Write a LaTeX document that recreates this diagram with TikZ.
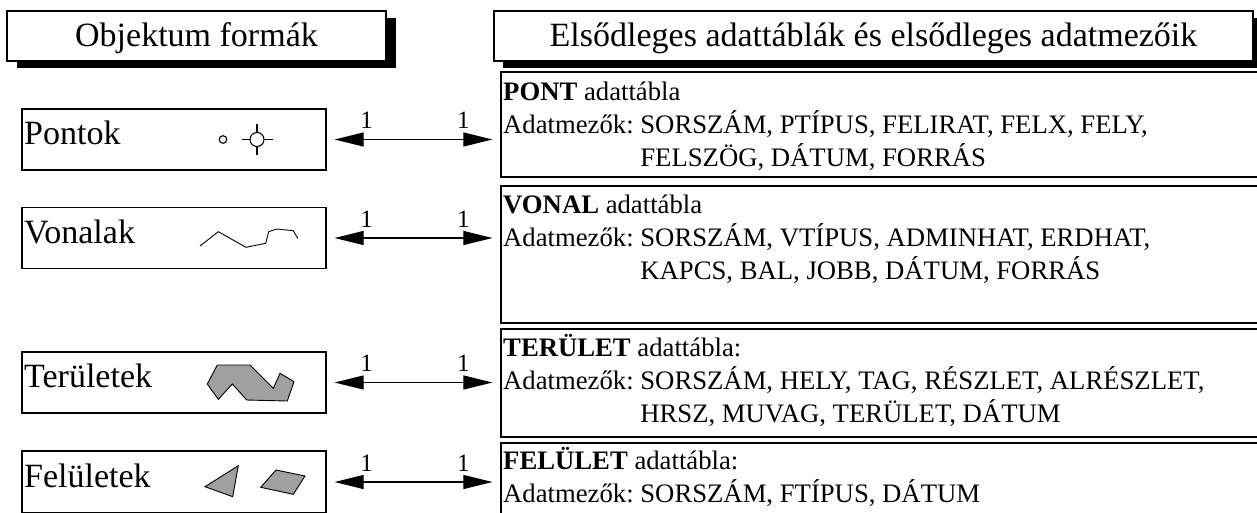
\documentclass[tikz,border=0pt]{standalone}
\usepackage{fontspec}
\setmainfont{Liberation Serif}
\usetikzlibrary{arrows.meta}
\definecolor{shapegray}{RGB}{160,160,160}
\frenchspacing
\begin{document}
\begin{tikzpicture}[x=1pt,y=-1pt,
  tbox/.style={draw=black,line width=1.2pt,fill=white,inner sep=0pt},
  lbox/.style={draw=black,line width=1.2pt,fill=white,inner sep=0pt,minimum width=304pt,minimum height=61pt},
  rbox/.style={draw=black,line width=1.2pt,fill=white,inner sep=0pt,minimum width=800pt},
  bigtxt/.style={font=\fontsize{34}{40}\selectfont,inner sep=0pt},
  lbl/.style={font=\fontsize{34}{40}\selectfont,inner sep=0pt,anchor=base west},
  datatxt/.style={font=\fontsize{26.7}{33}\selectfont,inner sep=0pt,anchor=base west},
  onetxt/.style={font=\fontsize{25}{30}\selectfont,inner sep=0pt,anchor=base},
  conn/.style={line width=1.1pt,{Triangle[length=29pt,width=14pt]}-{Triangle[length=29pt,width=14pt]}},
  icon/.style={line width=1.1pt},
  area/.style={draw=black,line width=0.9pt,fill=shapegray}
]
\useasboundingbox (0,0) rectangle (1257,512);
\clip (0,0) rectangle (1257,512);

% title boxes with shadows
\fill[black] (17,18) rectangle (396,68);
\node[tbox,minimum width=379pt,minimum height=50pt] (t1) at (196.5,36) {};
\node[bigtxt,anchor=base] (t1txt) at (196.5,46) {Objektum formák};
\fill[black] (503,18) rectangle (1262,68);
\node[tbox,minimum width=759pt,minimum height=50pt] (t2) at (873.5,36) {};
\node[bigtxt,anchor=base] (t2txt) at (873.5,46) {Elsődleges adattáblák és elsődleges adatmezőik};

% left boxes
\node[lbox] (lp) at (174,139.5) {};
\node[lbox] (lv) at (174,238) {};
\node[lbox] (lt) at (174,382.5) {};
\node[lbox,minimum height=62pt] (lf) at (174,482) {};
\node[lbl] (lptxt) at (24,144) {Pontok};
\node[lbl] (lvtxt) at (24,243) {Vonalak};
\node[lbl] (lttxt) at (24,387) {Területek};
\node[lbl] (lftxt) at (24,487) {Felületek};

% right boxes
\node[rbox,minimum height=105pt] (rp) at (901,124.5) {};
\node[rbox,minimum height=137pt] (rv) at (901,254.5) {};
\node[rbox,minimum height=108pt] (rt) at (901,383) {};
\node[rbox,minimum height=90pt] (rf) at (901,488) {};

% right texts
\node[datatxt] (rp1) at (503,100) {\textbf{PONT} adattábla};
\node[datatxt] (rp2) at (503,133) {Adatmezők: SORSZÁM, PTÍPUS, FELIRAT, FELX, FELY,};
\node[datatxt] (rp3) at (503,166) {\phantom{Adatmezők: }FELSZÖG, DÁTUM, FORRÁS};
\node[datatxt] (rv1) at (503,213) {\textbf{VONAL} adattábla};
\node[datatxt] (rv2) at (503,246) {Adatmezők: SORSZÁM, VTÍPUS, ADMINHAT, ERDHAT,};
\node[datatxt] (rv3) at (503,279) {\phantom{Adatmezők: }KAPCS, BAL, JOBB, DÁTUM, FORRÁS};
\node[datatxt] (rt1) at (503,356) {\textbf{TERÜLET} adattábla:};
\node[datatxt] (rt2) at (503,389) {Adatmezők: SORSZÁM, HELY, TAG, RÉSZLET, ALRÉSZLET,};
\node[datatxt] (rt3) at (503,422) {\phantom{Adatmezők: }HRSZ, MUVAG, TERÜLET, DÁTUM};
\node[datatxt] (rf1) at (503,469) {\textbf{FELÜLET} adattábla:};
\node[datatxt] (rf2) at (503,502) {Adatmezők: SORSZÁM, FTÍPUS, DÁTUM};

% connectors
\foreach \l/\r/\n in {lp/rp/p,lv/rv/v,lt/rt/t,lf/rf/f}{
  \coordinate (a\n) at ([xshift=8pt]\l.east);
  \coordinate (b\n) at ([xshift=-8pt]\l.east -| \r.west);
  \draw[conn] (a\n) -- (b\n);
  \node[onetxt] (oa\n) at ([xshift=32pt,yshift=11pt]a\n) {1};
  \node[onetxt] (ob\n) at ([xshift=-29pt,yshift=11pt]b\n) {1};
}

% point icons
\draw[icon] (223,139.5) circle (3.8);
\draw[icon] (257,139.5) circle (7);
\draw[icon] (242,139.5) -- (250,139.5) (264,139.5) -- (273,139.5)
            (257,124) -- (257,132.5) (257,146.5) -- (257,155);

% line icon
\draw[icon,line width=0.9pt] (200,246) -- (218.3,231.7) -- (246,247.3) -- (265.7,243.3) -- (268.7,231.7)
  -- (276.7,229) -- (293.3,230.7) -- (297.7,238.3);

% area icon
\draw[area] (207.3,384) -- (217.3,365) -- (250,365) -- (273.3,388.3) -- (280,373.3)
  -- (294,381.7) -- (287.3,401) -- (246.7,400) -- (232.3,384) -- (218.3,399.3) -- cycle;

% surface icons
\draw[area] (205,486.7) -- (238.3,465.7) -- (232.7,496.7) -- cycle;
\draw[area] (260.7,487.3) -- (276,470) -- (305,476) -- (293.3,494.3) -- cycle;
\end{tikzpicture}
\end{document}
